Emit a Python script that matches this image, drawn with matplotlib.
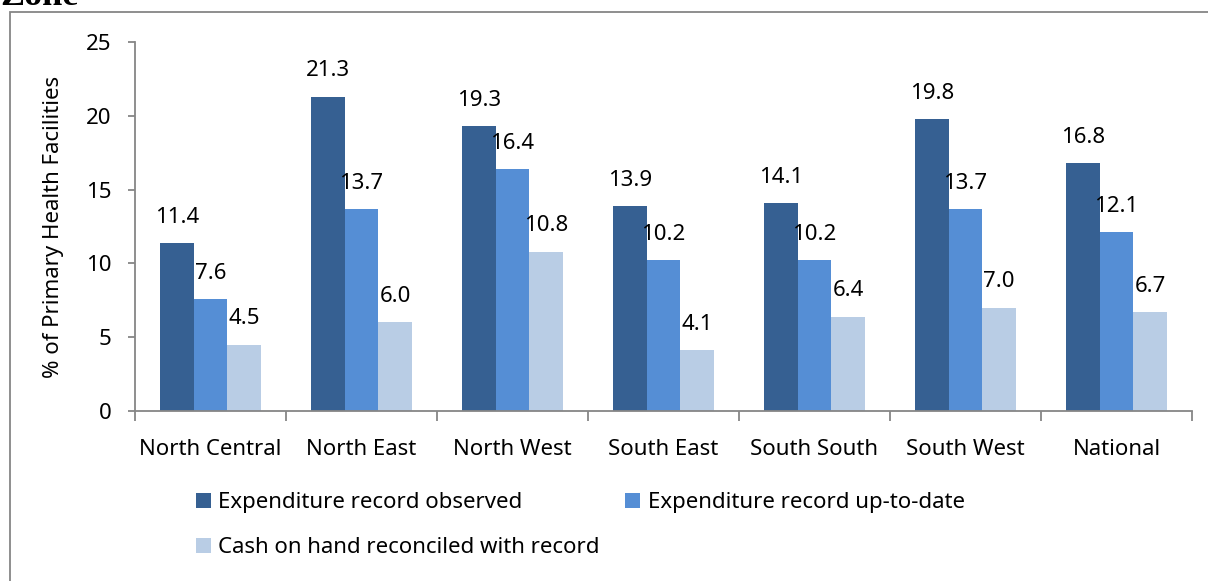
import matplotlib
matplotlib.use("Agg")
import matplotlib.pyplot as plt
import numpy as np
from matplotlib.patches import Rectangle

categories = ["North Central", "North East", "North West", "South East",
              "South South", "South West", "National"]
observed = [11.4, 21.3, 19.3, 13.9, 14.1, 19.8, 16.8]
up_to_date = [7.6, 13.7, 16.4, 10.2, 10.2, 13.7, 12.1]
cash = [4.5, 6.0, 10.8, 4.1, 6.4, 7.0, 6.7]
series_names = ["Expenditure record observed", "Expenditure record up-to-date",
                "Cash on hand reconciled with record"]
colors = ["#366092", "#558ED5", "#B9CDE5"]

plt.rcParams['font.family'] = ['Noto Sans', 'DejaVu Sans']
FS = 16

fig = plt.figure(figsize=(12.08, 5.81), dpi=100)
W, H = 1208, 581

# outer border
fig.patches.append(Rectangle((10 / W, -0.1), 1.2, 1 - 12 / H + 0.1, transform=fig.transFigure,
                             fill=False, edgecolor="#868686", linewidth=1.3, clip_on=False))
fig.text(0 / W, 1 - 5 / H, "Zone", family="Liberation Serif", fontweight="bold",
         fontsize=26, ha="left", va="baseline")

ax = fig.add_axes([135 / W, (H - 411) / H, (1192 - 135) / W, (411 - 42) / H])
x = np.arange(len(categories))
w = 0.222
bar_groups = []
for i, (vals, c, name) in enumerate(zip([observed, up_to_date, cash], colors, series_names)):
    bars = ax.bar(x + (i - 1) * w, vals, w, color=c, label=name)
    bar_groups.append(bars)
    for b, v in zip(bars, vals):
        ax.annotate(f"{v:.1f}", (b.get_x() + b.get_width() / 2, v), xytext=(0, 18.5),
                    textcoords="offset points", ha="center", va="center", fontsize=FS)

ax.set_xlim(-0.5, len(categories) - 0.5)
ax.set_ylim(0, 25)
ax.set_yticks([0, 5, 10, 15, 20, 25])
ax.set_xticks(x)
ax.set_xticklabels(categories, fontsize=FS)
ax.set_xticks(np.arange(-0.5, len(categories), 1), minor=True)
ax.tick_params(axis="x", which="major", length=0, pad=20)
ax.tick_params(axis="x", which="minor", length=7, color="#868686", width=1.3)
ax.tick_params(axis="y", length=5, color="#868686", width=1.3, labelsize=FS, pad=12)
for s in ["top", "right"]:
    ax.spines[s].set_visible(False)
for s in ["left", "bottom"]:
    ax.spines[s].set_color("#868686")
    ax.spines[s].set_linewidth(1.3)
ax.set_ylabel("% of Primary Health Facilities", fontsize=FS, labelpad=16)

order = [0, 2, 1]
handles = [bar_groups[k] for k in order]
labels = [series_names[k] for k in order]
leg = fig.legend(handles, labels, loc="upper left", bbox_to_anchor=(196 / W, 1 - 492 / H),
                 ncol=2, frameon=False, fontsize=FS, handlelength=0.68, handleheight=0.68,
                 handletextpad=0.32, columnspacing=1.15, labelspacing=1.1,
                 borderpad=0, borderaxespad=0)

fig.savefig("out.png", dpi=100)
